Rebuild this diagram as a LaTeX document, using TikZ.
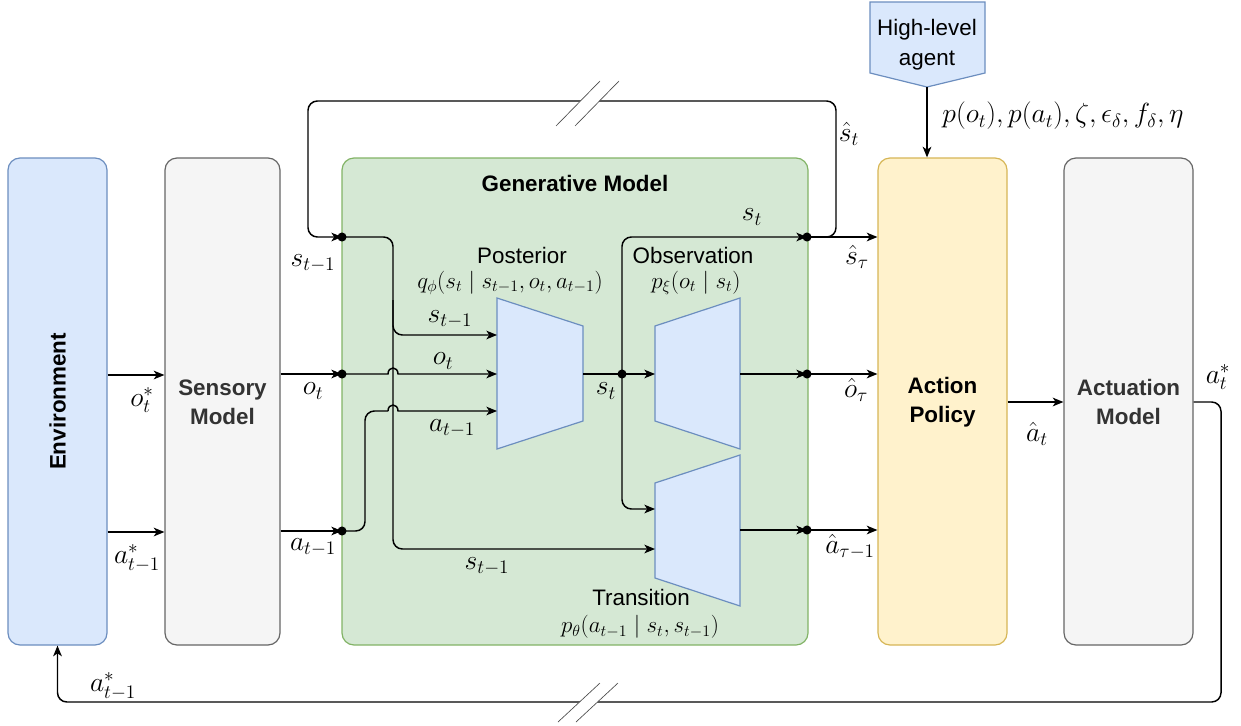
\documentclass[tikz,border=0pt]{standalone}
\usepackage[no-math]{fontspec}
\setmainfont{Liberation Sans}
\usetikzlibrary{arrows.meta,calc}
\definecolor{bluefill}{HTML}{DAE8FC}
\definecolor{bluedraw}{HTML}{6C8EBF}
\definecolor{greyfill}{HTML}{F5F5F5}
\definecolor{greydraw}{HTML}{666666}
\definecolor{greytext}{HTML}{333333}
\definecolor{greenfill}{HTML}{D5E8D4}
\definecolor{greendraw}{HTML}{82B366}
\definecolor{yellowfill}{HTML}{FFF2CC}
\definecolor{yellowdraw}{HTML}{D6B656}
\tikzset{
  bigbox/.style={rounded corners=9pt, line width=0.9pt, minimum height=365.25pt, inner sep=0pt},
  envbox/.style={bigbox, fill=bluefill, draw=bluedraw, minimum width=74.25pt},
  sensbox/.style={bigbox, fill=greyfill, draw=greydraw, minimum width=86.25pt},
  genbox/.style={bigbox, fill=greenfill, draw=greendraw, minimum width=349.5pt},
  polbox/.style={bigbox, fill=yellowfill, draw=yellowdraw, minimum width=96.75pt},
  actbox/.style={bigbox, fill=greyfill, draw=greydraw, minimum width=96.75pt},
  trap/.style={fill=bluefill, draw=bluedraw, line width=0.9pt},
  txt/.style={font=\fontsize{16.8}{21.5}\selectfont, align=center, inner sep=0pt},
  btxt/.style={font=\fontsize{16.8}{21.5}\selectfont\bfseries, align=center, inner sep=0pt},
  lbl/.style={font=\fontsize{20}{23}\selectfont, inner sep=0pt},
  flbl/.style={font=\fontsize{17}{20}\selectfont, inner sep=0pt},
  conn/.style={line width=1.1pt, draw=black},
  arr/.style={conn, -{Stealth[length=8pt,width=6.5pt,inset=2.2pt]}},
  rc/.style={rounded corners=7pt},
  dot/.style={fill=black},
  brk/.style={line width=0.5pt, draw=black!70},
}
\begin{document}
\begin{tikzpicture}[x=0.75pt,y=-0.75pt]
\useasboundingbox (0,0) rectangle (1241,725);

% boxes
\node[envbox] (env) at (57.5,401.5) {};
\node[sensbox] (sens) at (222.5,401.5) {};
\node[genbox] (gen) at (575,401.5) {};
\node[polbox] (pol) at (942.5,401.5) {};
\node[actbox] (act) at (1128.5,401.5) {};

\node[btxt, rotate=90] (envt) at (57.5,401.5) {Environment};
\node[btxt, text=greytext] (senst) at (222.5,402) {Sensory\\Model};
\node[btxt] (gent) at (575,183) {Generative Model};
\node[btxt] (polt) at (942.5,402) {Action\\Policy};
\node[btxt, text=greytext] (actt) at (1128.5,402) {Actuation\\Model};

% high-level agent
\draw[trap] (870,2) -- (985,2) -- (985,73) -- (927,87) -- (870,73) -- cycle;
\coordinate (hla) at (927,87);
\node[txt, font=\fontsize{16.8}{22.5}\selectfont] (hlat) at (927,45) {High-level\\agent};

% trapezoids
\draw[trap] (497,298) -- (583,326) -- (583,421) -- (497,449) -- cycle;
\draw[trap] (655,326) -- (740,298) -- (740,449) -- (655,421) -- cycle;
\draw[trap] (655,483) -- (740,455) -- (740,606) -- (655,578) -- cycle;

% helper coordinates
\coordinate (d1) at (342,237);
\coordinate (d2) at (342,374);
\coordinate (d3) at (342,531);
\coordinate (d4) at (622,374);
\coordinate (d5) at (807,237);
\coordinate (d6) at (807,374);
\coordinate (d7) at (807,530);
\coordinate (pin1) at (497,335);
\coordinate (pin2) at (497,374);
\coordinate (pin3) at (497,411);
\coordinate (pout) at (583,374);
\coordinate (oin) at (655,374);
\coordinate (oout) at (740,374);
\coordinate (tin1) at (655,509);
\coordinate (tin2) at (655,549);
\coordinate (tout) at (740,530);
\coordinate (yo) at (0,375);
\coordinate (ya) at (0,532);
\coordinate (yh) at (0,402);

% environment -> sensory
\draw[arr] (env.east |- yo) -- (sens.west |- yo);
\draw[arr] (env.east |- ya) -- (sens.west |- ya);
% sensory -> generative
\draw[arr] (sens.east |- d2) -- (d2);
\draw[arr] (sens.east |- d3) -- (d3);

% top feedback loop s_t -> s_{t-1}
\draw[arr, rc] (d5) -- (836,237) -- (836,101) -- (308,101) -- (308,237) -- (d1);
\draw[arr] (d5) -- (pol.west |- d5);

% s_{t-1} distribution
\draw[arr, rc] (d1) -- (393,237) -- (393,549) -- (tin2);
\draw[arr, rc] (393,300) -- (393,335) -- (pin1);

% o_t with hop
\draw[arr] (d2) -- (388,374) .. controls (388,366) and (398,366) .. (398,374) -- (pin2);
% a_{t-1} with hop
\draw[conn, rc] (d3) -- (365,531) -- (365,411) -- (388,411);
\draw[arr] (388,411) .. controls (388,403) and (398,403) .. (398,411) -- (pin3);

% s_t
\draw[conn] (pout) -- (d4);
\draw[arr] (d4) -- (oin);
\draw[arr, rc] (d4) -- (622,237) -- (d5);
\draw[arr, rc] (d4) -- (622,509) -- (tin1);

% outputs
\draw[arr] (oout) -- (d6);
\draw[arr] (d6) -- (pol.west |- d6);
\draw[arr] (tout) -- (d7);
\draw[arr] (d7) -- (pol.west |- d7);

% policy -> actuation
\draw[arr] (pol.east |- yh) -- (act.west |- yh);
% bottom loop
\draw[arr, rc] (act.east |- yh) -- (1221,402) -- (1221,702) -- (57.5,702) -- (env.south);
% high-level agent -> policy
\draw[arr] (hla) -- (pol.north -| hla);

% break marks
\fill[white] (556,126) -- (600,81) -- (619,81) -- (575,126) -- cycle;
\draw[brk] (556,126) -- (600,81);
\draw[brk] (575,126) -- (619,81);
\fill[white] (558,722) -- (600,683) -- (618,683) -- (576,722) -- cycle;
\draw[brk] (558,722) -- (600,683);
\draw[brk] (576,722) -- (618,683);

% dots
\foreach \d in {d1,d2,d3,d4,d5,d6,d7} \fill[dot] (\d) circle[radius=3.4pt];

% labels
\node[lbl] (lot) at (142,400) {$o_t^*$};
\node[lbl] (lat1) at (137,558) {$a_{t-1}^*$};
\node[lbl] (lst1) at (313,263) {$s_{t-1}$};
\node[lbl] (lo) at (313,391) {$o_t$};
\node[lbl] (la) at (313,547) {$a_{t-1}$};
\node[lbl] (lps) at (450,319) {$s_{t-1}$};
\node[lbl] (lpo) at (443,361) {$o_t$};
\node[lbl] (lpa) at (452,428) {$a_{t-1}$};
\node[lbl] (lbs) at (487,566) {$s_{t-1}$};
\node[lbl] (lst) at (606,391) {$s_t$};
\node[lbl] (lst2) at (752,217) {$s_t$};
\node[lbl] (lsh) at (849,134) {$\hat{s}_t$};
\node[lbl] (lstau) at (857,257) {$\hat{s}_\tau$};
\node[lbl] (lotau) at (856,390) {$\hat{o}_\tau$};
\node[lbl] (latau) at (850,547) {$\hat{a}_{\tau-1}$};
\node[lbl] (lat) at (1037,434) {$\hat{a}_t$};
\node[lbl] (lats) at (1218,377) {$a_t^*$};
\node[lbl] (lbot) at (113,686) {$a_{t-1}^*$};
\node[lbl] (lp) at (1063,116) {$p(o_t), p(a_t), \zeta, \epsilon_\delta, f_\delta, \eta$};

\node[txt] (postt) at (522,255) {Posterior};
\node[flbl] (postf) at (510,283) {$q_\phi(s_t \mid s_{t-1}, o_t, a_{t-1})$};
\node[txt] (obst) at (693,255) {Observation};
\node[flbl] (obsf) at (696,283) {$p_\xi(o_t \mid s_t)$};
\node[txt] (trt) at (641,597) {Transition};
\node[flbl] (trf) at (640,627) {$p_\theta(a_{t-1} \mid s_t, s_{t-1})$};
\end{tikzpicture}
\end{document}
